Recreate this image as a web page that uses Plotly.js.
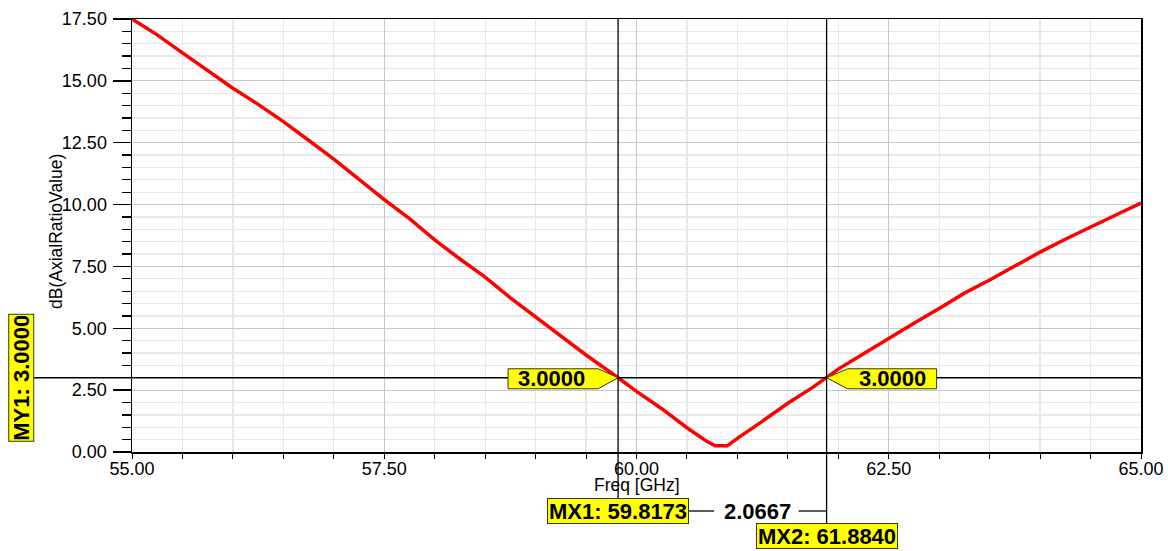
<!DOCTYPE html>
<html>
<head>
<meta charset="utf-8">
<script src="https://cdn.plot.ly/plotly-3.0.1.min.js"></script>
<style>html,body{margin:0;padding:0;background:#fff;}#chart{width:1168px;height:551px;}</style>
</head>
<body>
<div id="chart"></div>
<script>
// Data
const freqGHz = [55.0, 55.25, 55.5, 55.75, 56.0, 56.25, 56.5, 56.75, 57.0, 57.25, 57.5, 57.75, 58.0, 58.25, 58.5, 58.75, 59.0, 59.25, 59.5, 59.8173, 60.0, 60.25, 60.5, 60.7, 60.78, 60.9, 61.0, 61.25, 61.5, 61.75, 61.884, 62.0, 62.25, 62.5, 62.75, 63.0, 63.25, 63.5, 63.75, 64.0, 64.25, 64.5, 64.75, 65.0];
const axialRatioDB = [17.50, 16.86, 16.13, 15.40, 14.70, 14.05, 13.35, 12.60, 11.84, 11.02, 10.20, 9.43, 8.57, 7.80, 7.07, 6.23, 5.46, 4.72, 3.92, 3.00, 2.45, 1.75, 0.98, 0.42, 0.25, 0.25, 0.55, 1.25, 1.97, 2.62, 3.00, 3.35, 3.97, 4.60, 5.20, 5.80, 6.42, 6.95, 7.52, 8.08, 8.60, 9.10, 9.58, 10.06];

const markerX = [59.8173, 61.8840];
const markerY = [3.0];
const xAxisTitle = 'Freq [GHz]';
const yAxisTitle = 'dB(AxialRatioValue)';

const plotW = 1009, plotH = 433;
const yellow = '#ffff00';
const edge = '#3a3a00';
const fmt4 = v => v.toFixed(4);
const deltaX = markerX[1] - markerX[0];
const FAM = 'Liberation Sans, Arial, sans-serif';

const trace = {
  x: freqGHz, y: axialRatioDB, type: 'scatter', mode: 'lines',
  line: {color: '#ff0000', width: 3.5}, hoverinfo: 'skip', showlegend: false
};
// invisible companion trace so the minor-tick axis is drawn
const tickTrace = {
  x: freqGHz, y: axialRatioDB, yaxis: 'y2', type: 'scatter', mode: 'lines',
  line: {color: 'rgba(0,0,0,0)', width: 0}, hoverinfo: 'skip', showlegend: false
};

const shapes = [
  {type: 'line', xref: 'paper', yref: 'y', x0: -98/plotW, x1: 1, y0: markerY[0], y1: markerY[0], line: {color: '#000', width: 1.3}},
  {type: 'line', xref: 'x', yref: 'paper', x0: markerX[0], x1: markerX[0], y0: -46/plotH, y1: 1, line: {color: '#000', width: 1.3}},
  {type: 'line', xref: 'x', yref: 'paper', x0: markerX[1], x1: markerX[1], y0: -71/plotH, y1: 1, line: {color: '#000', width: 1.3}},
  {type: 'line', xref: 'x', yref: 'paper', xsizemode: 'pixel', xanchor: markerX[0], x0: 71, x1: 96, y0: -59/plotH, y1: -59/plotH, line: {color: '#000', width: 1.3}},
  {type: 'line', xref: 'x', yref: 'paper', xsizemode: 'pixel', xanchor: markerX[1], x0: -28, x1: 0, y0: -59/plotH, y1: -59/plotH, line: {color: '#000', width: 1.3}},
  {type: 'path', xref: 'x', yref: 'y', xsizemode: 'pixel', ysizemode: 'pixel', xanchor: markerX[0], yanchor: markerY[0],
   path: 'M 0 0 L -20 9 L -110 9 L -110 -11 L -20 -11 Z', fillcolor: yellow, line: {color: edge, width: 1}},
  {type: 'path', xref: 'x', yref: 'y', xsizemode: 'pixel', ysizemode: 'pixel', xanchor: markerX[1], yanchor: markerY[0],
   path: 'M 0 0 L 21 9 L 110 9 L 110 -11 L 21 -11 Z', fillcolor: yellow, line: {color: edge, width: 1}}
];

const labFont = {family: FAM, size: 22, color: '#000', weight: 'bold'};
const titleFont = {family: FAM, size: 17.5, color: '#000'};

const annotations = [
  {x: markerX[0], y: markerY[0], xref: 'x', yref: 'y', text: '<b>' + fmt4(markerY[0]) + '</b>', showarrow: false, xanchor: 'center', yanchor: 'middle', xshift: -67, yshift: -1, font: labFont},
  {x: markerX[1], y: markerY[0], xref: 'x', yref: 'y', text: '<b>' + fmt4(markerY[0]) + '</b>', showarrow: false, xanchor: 'center', yanchor: 'middle', xshift: 66, yshift: -1, font: labFont},
  {x: markerX[0], y: -59/plotH, xref: 'x', yref: 'paper', text: '<b>MX1: ' + fmt4(markerX[0]) + '</b>', showarrow: false, xanchor: 'center', yanchor: 'middle',
   bgcolor: yellow, bordercolor: edge, borderwidth: 1, borderpad: 1, width: 138, height: 22, font: labFont},
  {x: markerX[1], y: -84/plotH, xref: 'x', yref: 'paper', text: '<b>MX2: ' + fmt4(markerX[1]) + '</b>', showarrow: false, xanchor: 'center', yanchor: 'middle',
   bgcolor: yellow, bordercolor: edge, borderwidth: 1, borderpad: 1, width: 138, height: 22, font: labFont},
  {x: markerX[1], y: -59/plotH, xref: 'x', yref: 'paper', text: '<b>' + fmt4(deltaX) + '</b>', showarrow: false, xanchor: 'center', yanchor: 'middle', xshift: -69, font: labFont},
  {x: -111/plotW, y: markerY[0], xref: 'paper', yref: 'y', text: '<b>MY1: ' + fmt4(markerY[0]) + '</b>', showarrow: false, textangle: -90, xanchor: 'center', yanchor: 'middle',
   bgcolor: yellow, bordercolor: edge, borderwidth: 1, borderpad: 1, width: 124, height: 22, font: labFont},
  {x: 0.5, y: -33/plotH, xref: 'paper', yref: 'paper', text: xAxisTitle, showarrow: false, xanchor: 'center', yanchor: 'middle', font: titleFont},
  {x: -76/plotW, y: 220/plotH, xref: 'paper', yref: 'paper', text: yAxisTitle, showarrow: false, textangle: -90, xanchor: 'center', yanchor: 'middle', font: titleFont}
];

const tickFont = {family: FAM, size: 18, color: '#000'};

const layout = {
  width: 1168, height: 551,
  margin: {l: 132, r: 27, t: 19, b: 99, pad: 0},
  paper_bgcolor: '#ffffff', plot_bgcolor: '#ffffff',
  showlegend: false,
  font: {family: FAM, color: '#000'},
  xaxis: {
    range: [55, 65], tickmode: 'linear', tick0: 55, dtick: 2.5, tickformat: '.2f',
    showgrid: true, gridcolor: '#c8c8c8', gridwidth: 1,
    ticks: 'outside', ticklen: 5, tickcolor: '#000', tickwidth: 1, ticklabelstandoff: -5,
    showline: true, linecolor: '#000', linewidth: 1.5, mirror: true,
    zeroline: false, tickfont: tickFont,
    minor: {tickmode: 'linear', dtick: 0.5, tick0: 55, showgrid: true, gridcolor: '#e8e8e8', gridwidth: 1.3, ticks: 'outside', ticklen: 5, tickcolor: '#000'},
    fixedrange: true
  },
  yaxis: {
    range: [0, 17.5], tickmode: 'linear', tick0: 0, dtick: 2.5, tickformat: '.2f',
    showgrid: true, gridcolor: '#c8c8c8', gridwidth: 1,
    ticks: 'outside', ticklen: 18, tickcolor: '#000', tickwidth: 1.3, ticklabelstandoff: 2,
    showline: true, linecolor: '#000', linewidth: 1.5, mirror: true,
    zeroline: false, tickfont: tickFont,
    minor: {tickmode: 'linear', dtick: 0.5, tick0: 0, showgrid: true, gridcolor: '#e8e8e8', gridwidth: 1.3, ticks: ''},
    fixedrange: true
  },
  yaxis2: {
    overlaying: 'y', side: 'left', anchor: 'x', range: [0, 17.5], tickmode: 'linear', tick0: 0, dtick: 0.5,
    ticks: 'outside', ticklen: 9, tickcolor: '#000', tickwidth: 1.3, showticklabels: false,
    showgrid: false, zeroline: false, showline: false, fixedrange: true
  },
  shapes: shapes,
  annotations: annotations
};

Plotly.newPlot('chart', [trace, tickTrace], layout, {displayModeBar: false, staticPlot: true});
</script>
</body>
</html>
